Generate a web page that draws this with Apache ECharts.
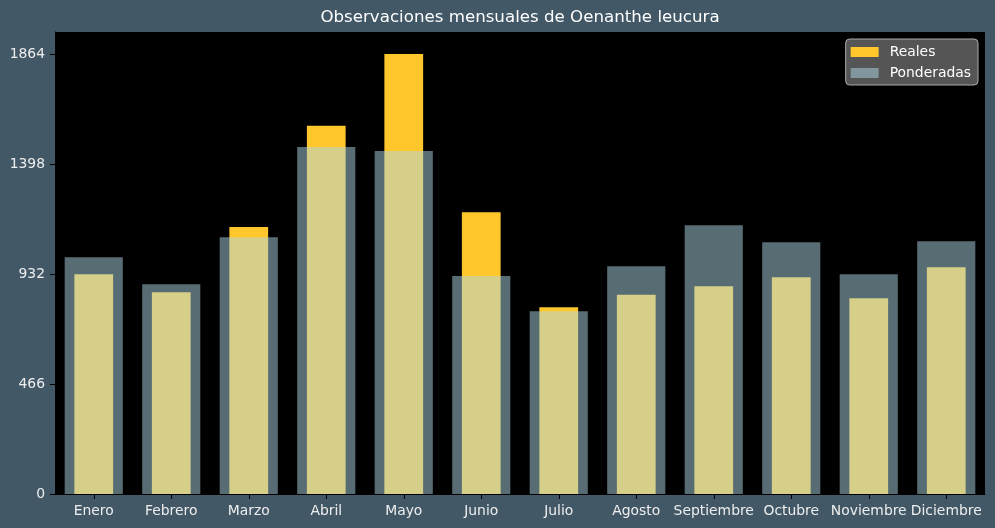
<!DOCTYPE html>
<html>
<head>
<meta charset="utf-8">
<script src="https://cdn.jsdelivr.net/npm/echarts@6/dist/echarts.min.js"></script>
<style>
html,body{margin:0;padding:0;background:#425866;}
#chart{width:995px;height:528px;}
</style>
</head>
<body>
<div id="chart"></div>
<script>
const categories = ['Enero','Febrero','Marzo','Abril','Mayo','Junio','Julio','Agosto','Septiembre','Octubre','Noviembre','Diciembre'];
const reales = [931, 855, 1131, 1560, 1864, 1194, 791, 844, 880, 918, 829, 961];
const ponderadas = [1003, 889, 1088, 1470, 1453, 923, 774, 965, 1139, 1067, 931, 1071];
const yTicks = [0, 466, 932, 1398, 1864];
const yMax = 1957.2;
const titleText = 'Observaciones mensuales de Oenanthe leucura';

const chart = echarts.init(document.getElementById('chart'), null, {renderer:'canvas'});
const font = 'DejaVu Sans';
const fs = 13.9;
const xAxisBase = {
  type: 'category',
  data: categories,
  boundaryGap: true,
  axisLine: {show: true, lineStyle: {color: '#000', width: 1}},
  axisTick: {show: true, alignWithLabel: true, length: 5, lineStyle: {color: '#000'}},
  axisLabel: {color: '#eeeeee', fontSize: fs, fontFamily: font, margin: 10, interval: 0},
  splitLine: {show: false}
};
chart.setOption({
  backgroundColor: '#425866',
  animation: false,
  graphic: [{
    type: 'text', x: 520, y: 18,
    style: {text: titleText, fill: '#ffffff', font: '16.67px "DejaVu Sans"', align: 'center', verticalAlign: 'middle'}
  }],
  legend: {
    orient: 'vertical',
    right: 17, top: 39,
    backgroundColor: '#555555',
    borderColor: '#aaaaaa', borderWidth: 1, borderRadius: 4,
    padding: [6, 7, 5, 5],
    itemWidth: 28, itemHeight: 10, itemGap: 7,
    textStyle: {color: '#ffffff', fontSize: fs, fontFamily: font, padding: [0, 0, 0, 6]},
    data: [
      {name: 'Reales', icon: 'rect'},
      {name: 'Ponderadas', icon: 'rect'}
    ]
  },
  grid: {left: 55, right: 10, top: 32, bottom: 34, backgroundColor: '#000', show: true, borderWidth: 0},
  xAxis: [
    Object.assign({}, xAxisBase),
    Object.assign({}, xAxisBase, {show: false})
  ],
  yAxis: {
    type: 'value', min: 0, max: yMax, interval: 466,
    axisLine: {show: true, lineStyle: {color: '#000'}},
    axisTick: {show: true, length: 5, lineStyle: {color: '#000'}, customValues: yTicks},
    axisLabel: {color: '#eeeeee', fontSize: fs, fontFamily: font, margin: 10, customValues: yTicks,
      formatter: v => String(Math.round(v))},
    splitLine: {show: false}
  },
  series: [
    {
      name: 'Reales', type: 'bar', xAxisIndex: 0, data: reales,
      barWidth: '50%',
      itemStyle: {color: '#ffc72c'}
    },
    {
      name: 'Ponderadas', type: 'bar', xAxisIndex: 1, data: ponderadas,
      barWidth: '75%',
      itemStyle: {color: 'rgba(173,216,230,0.5)'}
    }
  ]
});
</script>
</body>
</html>
